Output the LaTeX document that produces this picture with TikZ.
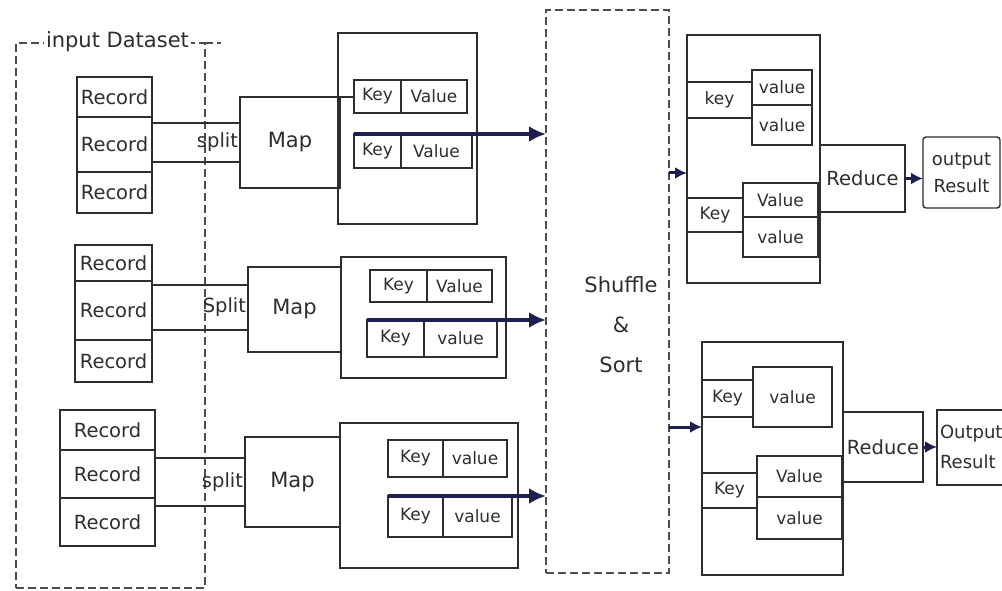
\documentclass[tikz,border=0pt]{standalone}
\usepackage{fontspec}
\setmainfont{DejaVu Sans}
\usetikzlibrary{arrows.meta}
\definecolor{ink}{HTML}{2E2E2E}
\definecolor{navy}{HTML}{1F1F4F}
% \bx[style]{name}{x1}{y1}{x2}{y2}{text}: box from top-left to bottom-right corner
\newcommand\bx[7][]{%
  \pgfmathsetmacro\bxw{#5-#3}\pgfmathsetmacro\bxh{#6-#4}%
  \node[box,#1,minimum width=\bxw pt,minimum height=\bxh pt,anchor=north west] (#2) at (#3,#4) {#7};}
\tikzset{
  box/.style={draw=ink, line width=1.4pt, inner sep=0pt, outer sep=0pt,
    font=\fontsize{19.5}{22}\selectfont, text=ink, align=center},
  plain/.style={box, draw=none},
  kv/.style={font=\fontsize{17}{19}\selectfont},
  dashbox/.style={draw=ink!85, dash pattern=on 8pt off 4pt, line width=1.3pt},
  wire/.style={draw=ink, line width=1.4pt},
  flow/.style={draw=navy, line width=3.4pt, -{Latex[length=17pt,width=16pt]}},
  hop/.style={draw=navy, line width=3pt, -{Latex[length=12pt,width=12pt]}},
}
\begin{document}
\begin{tikzpicture}[x=1pt,y=-1pt]
\fill[white] (0,0) rectangle (1002,591);
\useasboundingbox (0,0) rectangle (1002,591);
\clip (0,0) rectangle (1002,591);

% ---------- input dataset ----------
\bx[box,dashbox]{inp}{16}{43}{205}{588}{}
\draw[dashbox] (inp.north east) -- ++(16,0);
\node[plain, fill=white, font=\fontsize{21}{22}\selectfont, anchor=west, inner xsep=2pt] (inplbl) at (44,42) {input Dataset};

% record stacks
\bx{r1a}{77}{77}{152}{117}{Record}
\bx{r1b}{77}{117}{152}{172}{Record}
\bx{r1c}{77}{172}{152}{213}{Record}
\bx{r2a}{75}{245}{152}{281}{Record}
\bx{r2b}{75}{281}{152}{340}{Record}
\bx{r2c}{75}{340}{152}{382}{Record}
\bx{r3a}{60}{410}{155}{450}{Record}
\bx{r3b}{60}{450}{155}{498}{Record}
\bx{r3c}{60}{498}{155}{546}{Record}

% map boxes
\bx[font=\fontsize{21}{22}\selectfont]{map1}{240}{97}{340}{188}{Map}
\bx[font=\fontsize{21}{22}\selectfont]{map2}{248}{267}{341}{352}{Map}
\bx[font=\fontsize{21}{22}\selectfont]{map3}{245}{437}{340}{527}{Map}

% split bands
\node[plain, anchor=east, minimum height=39pt, inner xsep=2pt] (sp1) at (240,142.5) {split};
\node[plain, anchor=east, minimum height=45pt, inner xsep=2pt] (sp2) at (248,307.5) {Split};
\node[plain, anchor=east, minimum height=48pt, inner xsep=2pt] (sp3) at (245,482) {split};
\foreach \r/\s/\m in {r1b/sp1/map1, r2b/sp2/map2, r3b/sp3/map3}{
  \draw[wire] (\r.east |- \s.north) -- (\m.west |- \s.north);
  \draw[wire] (\r.east |- \s.south) -- (\m.west |- \s.south);
}

% ---------- map outputs ----------
\bx{kvb1}{338}{33}{477}{224}{}
\bx[kv]{k1a}{354}{80}{401}{113}{Key}
\bx[kv]{v1a}{401}{80}{467}{113}{Value}
\bx[kv]{k1b}{354}{134}{401}{168}{Key}
\bx[kv]{v1b}{401}{134}{472}{168}{Value}
\draw[wire] (map1.north east) -- (k1a.west |- map1.north east);

\bx{kvb2}{341}{257}{506}{378}{}
\bx[kv]{k2a}{370}{270}{427}{302}{Key}
\bx[kv]{v2a}{427}{270}{492}{302}{Value}
\bx[kv]{k2b}{367}{320}{424}{357}{Key}
\bx[kv]{v2b}{424}{320}{497}{357}{value}

\bx{kvb3}{340}{423}{518}{568}{}
\bx[kv]{k3a}{388}{440}{443}{477}{Key}
\bx[kv]{v3a}{443}{440}{507}{477}{value}
\bx[kv]{k3b}{388}{496}{443}{537}{Key}
\bx[kv]{v3b}{443}{496}{512}{537}{value}

% ---------- shuffle & sort ----------
\bx[box,dashbox]{shuf}{546}{10}{669}{573}{}
\node[plain, font=\fontsize{21}{40}\selectfont] (shuftxt) at (621,325) {Shuffle\\\&\\Sort};

\draw[flow] (k1b.north west) -- (shuf.west |- k1b.north west);
\draw[flow] (k2b.north west) -- (shuf.west |- k2b.north west);
\draw[flow] (k3b.north west) -- (shuf.west |- k3b.north west);

% ---------- reduce 1 ----------
\bx{rb1}{687}{35}{820}{283}{}
\bx[plain,kv]{kr1}{687}{82}{752}{118}{key}
\bx[kv]{vr1a}{752}{70}{812}{105}{value}
\bx[kv]{vr1b}{752}{105}{812}{145}{value}
\bx[plain,kv]{kr2}{687}{198}{743}{232}{Key}
\bx[kv]{vr2a}{743}{183}{818}{217}{Value}
\bx[kv]{vr2b}{743}{217}{818}{257}{value}
\bx{red1}{820}{145}{905}{212}{Reduce}
\bx[rounded corners=3pt, font=\fontsize{18}{27}\selectfont]{out1}{923}{137}{1000}{208}{output\\Result}
\coordinate (in1) at (687,173);
\draw[hop] (shuf.east |- in1) -- (in1);
\draw[hop] (red1.east) -- (out1.west |- red1.east);

% ---------- reduce 2 ----------
\bx{rb2}{702}{342}{843}{575}{}
\bx[plain,kv]{kr3}{702}{380}{753}{417}{Key}
\bx[kv]{vr3}{753}{367}{832}{427}{value}
\bx[plain,kv]{kr4}{702}{473}{757}{508}{Key}
\bx[kv]{vr4a}{757}{456}{842}{497}{Value}
\bx[kv]{vr4b}{757}{497}{842}{539}{value}
\bx{red2}{843}{412}{923}{482}{Reduce}
\bx{out2}{937}{410}{1015}{485}{}
\node[plain, align=left, anchor=west, font=\fontsize{18}{30}\selectfont] (out2txt) at (940,447) {Output\\Result};
\coordinate (in2) at (702,427);
\draw[hop] (shuf.east |- in2) -- (in2);
\draw[hop] (red2.east) -- (out2.west |- red2.east);

% key brackets
\foreach \k in {kr1,kr2,kr3,kr4}{
  \draw[wire] (\k.north west) -- (\k.north east);
  \draw[wire] (\k.south west) -- (\k.south east);
}
\end{tikzpicture}
\end{document}
